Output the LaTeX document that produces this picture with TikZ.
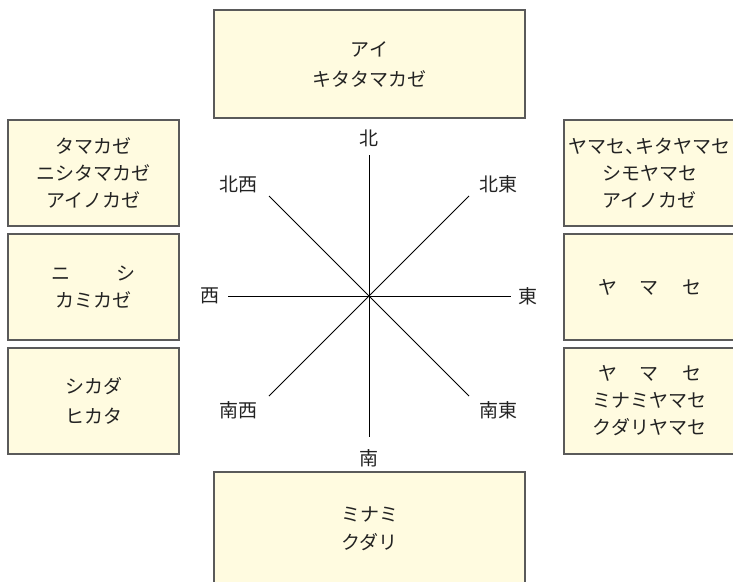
\documentclass[tikz,border=0pt]{standalone}
\usepackage{fontspec}
\setmainfont{Noto Sans CJK JP}
\definecolor{boxfill}{RGB}{255,251,224}
\definecolor{boxline}{RGB}{90,90,90}
\definecolor{txt}{RGB}{35,35,35}
\begin{document}
\begin{tikzpicture}[x=1pt,y=-1pt,
  box/.style={draw=boxline, fill=boxfill, line width=1.5pt, inner sep=0pt, align=center, text=txt, font=\fontsize{19}{28}\selectfont},
  sidebox/.style={box, minimum width=171pt, minimum height=106pt},
  widebox/.style={box, minimum width=311pt},
  dirlabel/.style={text=txt, inner sep=0pt, font=\fontsize{19}{20}\selectfont},
  ray/.style={draw=black, line width=1pt}]
\useasboundingbox (0,0) rectangle (733,581);
\clip (0,0) rectangle (733,581);
% boxes
\node[widebox, minimum height=108pt, font=\fontsize{19}{30}\selectfont] (top) at (369.5,64) {アイ\\キタタマカゼ};
\node[widebox, minimum height=114pt] (bottom) at (369.5,529) {ミナミ\\クダリ};
\node[sidebox, font=\fontsize{19}{27}\selectfont] (lnw) at (93.5,173) {タマカゼ\\ニシタマカゼ\\アイノカゼ};
\node[sidebox, font=\fontsize{19}{27}\selectfont] (lw) at (93.5,287) {ニ\hspace{46pt}シ\\カミカゼ};
\node[sidebox, font=\fontsize{19}{30}\selectfont] (lsw) at (93.5,401) {シカダ\\ヒカタ};
\node[sidebox, font=\fontsize{19}{27}\selectfont] (rne) at (649.5,173) {ヤマセ、\kern-0.5em キタヤマセ\\シモヤマセ\\アイノカゼ};
\node[sidebox] (re) at (649.5,287) {ヤ\hspace{23pt}マ\hspace{23pt}セ};
\node[sidebox, font=\fontsize{19}{27}\selectfont] (rse) at (649.5,401) {ヤ\hspace{23pt}マ\hspace{23pt}セ\\ミナミヤマセ\\クダリヤマセ};
% compass
\coordinate (c) at (369,296);
\coordinate (n) at (369,155);
\coordinate (s) at (369,437);
\coordinate (w) at (228,296);
\coordinate (e) at (511,296);
\coordinate (nw) at (269,196);
\coordinate (ne) at (469,196);
\coordinate (sw) at (269,396);
\coordinate (se) at (469,396);
\foreach \p in {n,s,w,e,nw,ne,sw,se} \draw[ray] (c) -- (\p);
\node[dirlabel] (ln) at (369,138) {北};
\node[dirlabel] (ls) at (369,458) {南};
\node[dirlabel] (lwl) at (210,296) {西};
\node[dirlabel] (lel) at (528,296) {東};
\node[dirlabel] (lnwl) at (238,184) {北西};
\node[dirlabel] (lnel) at (498,184) {北東};
\node[dirlabel] (lswl) at (238,410) {南西};
\node[dirlabel] (lsel) at (498,410) {南東};
\end{tikzpicture}
\end{document}
